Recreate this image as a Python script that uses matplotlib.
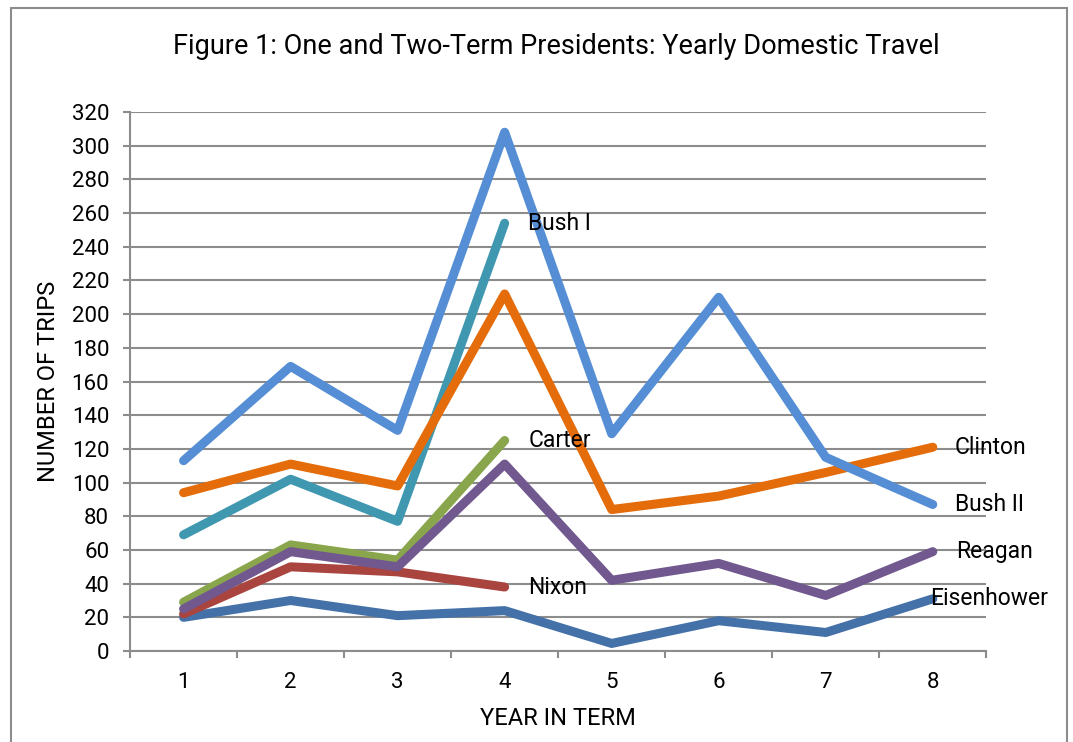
import numpy as np
import matplotlib.pyplot as plt
from matplotlib.patches import Rectangle

plt.rcParams['font.family'] = ['Roboto', 'DejaVu Sans']

years = [1, 2, 3, 4, 5, 6, 7, 8]

eisenhower = [20, 30, 21, 24, 4.5, 18, 11, 31]
nixon = [22, 50, 47, 38]
carter = [29, 63, 54, 125]
reagan = [25, 59, 50, 111, 42, 52, 33, 59]
bush1 = [69, 102, 77, 254]
clinton = [94, 111, 98, 212, 84, 92, 106, 121]
bush2 = [113, 169, 131, 308, 129, 210, 115, 87]

names = ['Eisenhower', 'Nixon', 'Carter', 'Reagan', 'Bush I', 'Clinton', 'Bush II']
series = [eisenhower, nixon, carter, reagan, bush1, clinton, bush2]
colors = ['#4471A8', '#A9443F', '#8AA64C', '#71588F', '#3F97B0', '#E46C0A', '#558ED5']
label_dx = [-2, 17, 17, 17, 17, 16, 16]

fig = plt.figure(figsize=(10.73, 7.42), dpi=100)
fig.patches.append(Rectangle((0.0105, -0.01), 0.984, 0.999, transform=fig.transFigure,
                             fill=False, edgecolor='#8c8c8c', linewidth=1.5))
ax = fig.add_axes([0.1212, 0.1226, 0.798, 0.7264])

for name, vals, c, dx in zip(names, series, colors, label_dx):
    xs = years[:len(vals)]
    ax.plot(xs, vals, color=c, linewidth=6.5, solid_capstyle='round',
            solid_joinstyle='round')
    ax.annotate(name, (xs[-1], vals[-1]), xytext=(dx, 0), textcoords='offset points',
                ha='left', va='center', fontsize=16.5, color='black')

ax.set_xlim(0.5, 8.5)
ax.set_ylim(0, 320)
ax.set_yticks(np.arange(0, 321, 20))
ax.set_xticks(years)
ax.set_xticks(np.arange(0.5, 8.6, 1), minor=True)
ax.tick_params(axis='x', which='major', length=0, pad=15, labelsize=16)
ax.tick_params(axis='x', which='minor', length=5, width=1.5, color='#8c8c8c', direction='out')
ax.tick_params(axis='y', length=5, width=1.5, color='#8c8c8c', labelsize=16, pad=10)
ax.grid(axis='y', color='#8c8c8c', linewidth=1.5)
ax.set_axisbelow(True)
for s in ['top', 'right']:
    ax.spines[s].set_visible(False)
for s in ['left', 'bottom']:
    ax.spines[s].set_color('#8c8c8c')
    ax.spines[s].set_linewidth(1.5)

ax.set_xlabel('YEAR IN TERM', fontsize=17, labelpad=10)
ax.set_ylabel('NUMBER OF TRIPS', fontsize=17, labelpad=8)
fig.text(0.518, 0.938, 'Figure 1: One and Two-Term Presidents: Yearly Domestic Travel',
         ha='center', va='center', fontsize=19.5)

fig.savefig('out.png', dpi=100)
